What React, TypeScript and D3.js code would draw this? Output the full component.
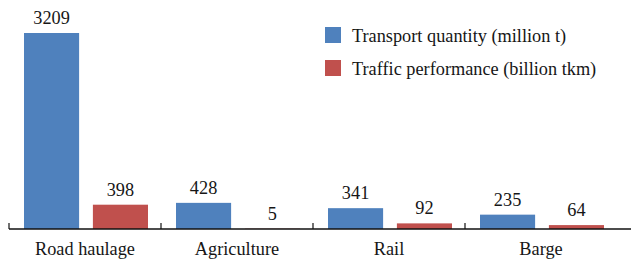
import React from "react";
import * as d3 from "d3";

const categories = ["Road haulage", "Agriculture", "Rail", "Barge"];
const seriesNames = ["Transport quantity (million t)", "Traffic performance (billion tkm)"];
const transportQuantity = [3209, 428, 341, 235];
const trafficPerformance = [398, 5, 92, 64];
const seriesColors = ["#4f81bd", "#c0504d"];

const W = 631;
const H = 264;
const axisY = 229;
const textStyle = { fontFamily: "Liberation Serif", fontSize: 18.3, fill: "#161616" } as const;

export default function App() {
  const x = d3.scaleBand<string>().domain(categories).range([9, 617]).paddingInner(0).paddingOuter(0);
  const inner = d3
    .scaleBand<number>()
    .domain([0, 1])
    .range([15, x.bandwidth() - 13])
    .paddingInner(0.2);
  const y = d3.scaleLinear().domain([0, 3209]).range([axisY, 33]);
  const series = [transportQuantity, trafficPerformance];

  return (
    <svg width={W} height={H} style={{ position: "absolute", left: 0, top: 0, background: "#fff" }}>
      {series.map((vals, si) =>
        vals.map((v, ci) => {
          const bx = (x(categories[ci]) as number) + (inner(si) as number);
          const by = y(v);
          return (
            <g key={`${si}-${ci}`}>
              <rect x={bx} y={by} width={inner.bandwidth()} height={axisY - by} fill={seriesColors[si]} />
              <text x={bx + inner.bandwidth() / 2} y={by - 9} textAnchor="middle" style={textStyle}>
                {v}
              </text>
            </g>
          );
        })
      )}
      <line x1={9} x2={W} y1={axisY} y2={axisY} stroke="#111" strokeWidth={1.5} />
      {categories.map((c) => (
        <line
          key={"t" + c}
          x1={x(c) as number}
          x2={x(c) as number}
          y1={axisY - 6}
          y2={axisY}
          stroke="#111"
          strokeWidth={1.2}
        />
      ))}
      {categories.map((c) => (
        <text key={"l" + c} x={(x(c) as number) + x.bandwidth() / 2} y={255} textAnchor="middle" style={textStyle}>
          {c}
        </text>
      ))}
      {seriesNames.map((n, i) => (
        <g key={n} transform={`translate(325, ${27 + i * 33})`}>
          <rect x={0} y={0} width={16} height={16} fill={seriesColors[i]} />
          <text x={27} y={15} style={textStyle}>
            {n}
          </text>
        </g>
      ))}
    </svg>
  );
}
